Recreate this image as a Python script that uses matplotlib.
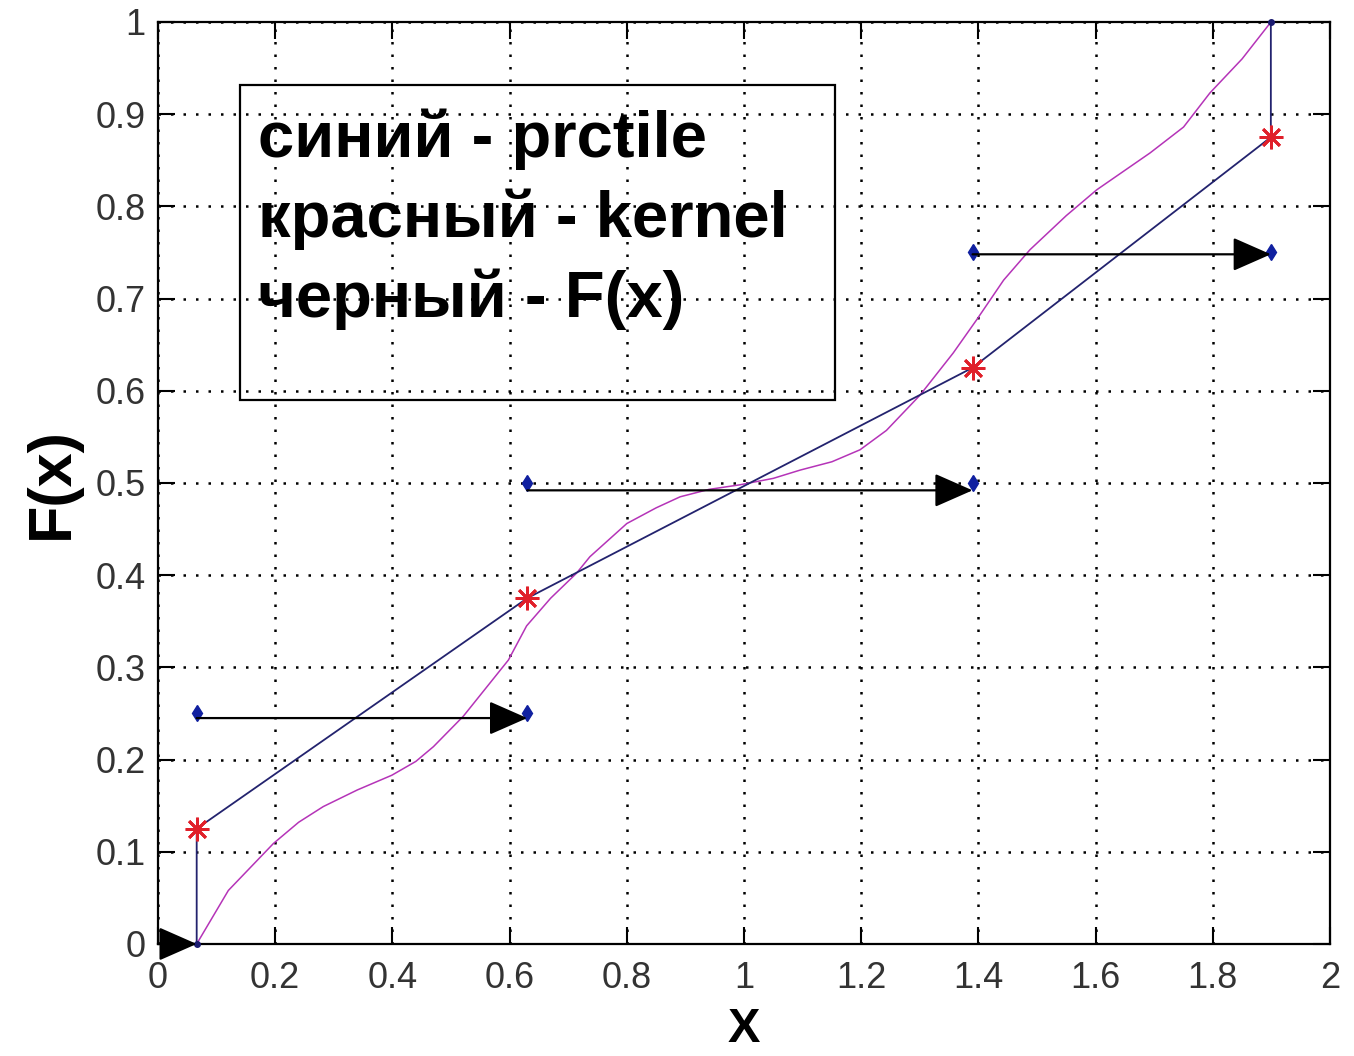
import matplotlib
matplotlib.use('Agg')
import matplotlib.pyplot as plt
from matplotlib.patches import Rectangle

plt.rcParams['font.family'] = ['Liberation Sans', 'DejaVu Sans']

# quantile points (prctile) and their levels
q_x = [0.066, 0.630, 1.390, 1.899]
q_y = [0.125, 0.375, 0.625, 0.875]

# blue prctile polyline
prc_x = [0.066, 0.066, 0.630, 1.390, 1.899, 1.899]
prc_y = [0.0, 0.125, 0.375, 0.625, 0.875, 1.0]

# kernel estimate (magenta curve)
ker_x = [0.066, 0.12, 0.197, 0.24, 0.282, 0.34, 0.399, 0.44, 0.470, 0.521,
         0.598, 0.629, 0.67, 0.714, 0.737, 0.800, 0.85, 0.891, 0.94, 0.993,
         1.05, 1.096, 1.15, 1.198, 1.243, 1.300, 1.357, 1.397, 1.443, 1.488,
         1.55, 1.602, 1.693, 1.75, 1.795, 1.85, 1.898]
ker_y = [0.0, 0.058, 0.109, 0.132, 0.149, 0.167, 0.183, 0.198, 0.214, 0.247,
         0.308, 0.345, 0.375, 0.402, 0.420, 0.456, 0.473, 0.485, 0.493, 0.498,
         0.505, 0.514, 0.523, 0.536, 0.557, 0.595, 0.641, 0.677, 0.720, 0.753,
         0.790, 0.818, 0.858, 0.886, 0.923, 0.960, 0.999]

# empirical F(x): steps drawn as arrows
step_x0 = [0.0, 0.066, 0.630, 1.390]
step_x1 = [0.066, 0.630, 1.390, 1.899]
step_y = [0.0, 0.245, 0.492, 0.748]
dot_x = [0.066, 0.630, 0.630, 1.390, 1.390, 1.899]
dot_y = [0.25, 0.25, 0.5, 0.5, 0.75, 0.75]

legend_lines = ['синий - prctile', 'красный - kernel', 'черный - F(x)']

fig = plt.figure(figsize=(13.54, 10.56), dpi=100)
ax = fig.add_axes([0.1167, 0.1061, 0.8656, 0.8731])

ax.plot(ker_x, ker_y, color='#b534b8', lw=1.1, zorder=3)
ax.plot(prc_x, prc_y, color='#23236e', lw=1.3, zorder=4)
ax.plot([prc_x[0], prc_x[-1]], [prc_y[0], prc_y[-1]], '.', color='#1a1a70',
        ms=8, zorder=5, clip_on=False)
ax.plot(q_x, q_y, ls='none', marker=(8, 2, 0), color='#e0202a', ms=17,
        mew=2, zorder=6)
ax.plot(dot_x, dot_y, 'd', color='#1020a0', ms=8, zorder=6)

for a, b, y in zip(step_x0, step_x1, step_y):
    ax.annotate('', xy=(b, y), xytext=(a, y), annotation_clip=False,
                arrowprops=dict(arrowstyle='-|>,head_length=0.5,head_width=0.22',
                                color='k', lw=1.6, mutation_scale=48,
                                shrinkA=0, shrinkB=0), zorder=7)

ax.set_xlim(0, 2)
ax.set_ylim(0, 1)
ax.set_xticks([0, 0.2, 0.4, 0.6, 0.8, 1, 1.2, 1.4, 1.6, 1.8, 2])
ax.set_xticklabels(['0', '0.2', '0.4', '0.6', '0.8', '1', '1.2', '1.4', '1.6', '1.8', '2'])
ax.set_yticks([0, 0.1, 0.2, 0.3, 0.4, 0.5, 0.6, 0.7, 0.8, 0.9, 1])
ax.set_yticklabels(['0', '0.1', '0.2', '0.3', '0.4', '0.5', '0.6', '0.7', '0.8', '0.9', '1'])
ax.tick_params(direction='in', length=12, width=1.5, top=True, right=True,
               labelsize=26, labelcolor='#333333')
ax.tick_params(axis='x', pad=12)
ax.tick_params(axis='y', pad=9)
ax.grid(True, color='k', lw=1.8, ls=(0, (1, 4)))
for s in ax.spines.values():
    s.set_linewidth(1.6)

# text box with the colour legend
ax.add_patch(Rectangle((0.140, 0.590), 1.015, 0.342, fill=False, ec='k',
                       lw=1.6, zorder=8))
ax.text(0.170, 0.906, '\n'.join(legend_lines), fontsize=47, fontweight='bold',
        va='top', ha='left', linespacing=1.38, zorder=9)

ax.set_xlabel('X', fontsize=35, fontweight='bold', labelpad=8)
ax.set_ylabel('F(x)', fontsize=44, fontweight='bold', labelpad=10)

fig.savefig('out.png', dpi=100)
